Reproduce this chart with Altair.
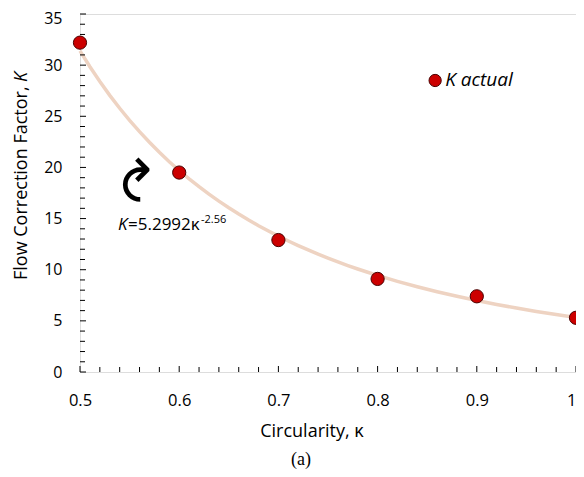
import altair as alt
import pandas as pd

# data
circularity = [0.5, 0.6, 0.7, 0.8, 0.9, 1.0]
k_actual = [32.2, 19.5, 12.9, 9.1, 7.4, 5.3]

x_major = [0.5, 0.6, 0.7, 0.8, 0.9, 1.0]
x_minor = [0.52, 0.54, 0.56, 0.58, 0.62, 0.64, 0.66, 0.68, 0.72, 0.74, 0.76, 0.78,
           0.82, 0.84, 0.86, 0.88, 0.92, 0.94, 0.96, 0.98]
y_major = [0, 5, 10, 15, 20, 25, 30, 35]
y_minor = [1, 2, 3, 4, 6, 7, 8, 9, 11, 12, 13, 14, 16, 17, 18, 19, 21, 22, 23, 24,
           26, 27, 28, 29, 31, 32, 33, 34]

legend_pos = {"k": [0.858], "K": [28.5], "label": ["K actual"]}

FONT = "Open Sans"
W, H = 496, 358

df = pd.DataFrame({"k": circularity, "K": k_actual})

xs = alt.Scale(domain=[0.5, 1.0], nice=False, zero=False)
ys = alt.Scale(domain=[0, 35], nice=False, zero=True)

xaxis = alt.Axis(values=x_major, ticks=False, domain=False, grid=False,
                 labelExpr="datum.value == 1 ? '1' : format(datum.value, '.1f')",
                 labelAlign={"condition": {"test": "datum.value == 1", "value": "right"},
                             "value": "center"},
                 labelFont=FONT, labelFontSize=16.5, labelColor="black", labelPadding=20,
                 title=None)
yaxis = alt.Axis(values=y_major, ticks=False, domain=False, grid=False,
                 labelOffset={"condition": {"test": "datum.value == 35", "value": 4},
                              "value": 0},
                 labelFont=FONT, labelFontSize=16, labelColor="black", labelPadding=18,
                 title=None)

X = alt.X("k:Q", scale=xs, axis=xaxis)
Y = alt.Y("K:Q", scale=ys, axis=yaxis)

base = alt.Chart(df)

curve = base.transform_regression("k", "K", method="pow", extent=[0.5, 1.0]).mark_line(
    color="#eed3c2", strokeWidth=3.5).encode(x=X, y=Y)

points = base.mark_point(filled=True, fill="#cc0000", stroke="#4a0000",
                         strokeWidth=1, opacity=1, size=175).encode(x=X, y=Y)

# minor / major ticks pointing inward
xt_major = alt.Chart(pd.DataFrame({"k": x_major})).mark_rule(color="black").encode(
    x=X, y=alt.value(H), y2=alt.value(H - 6))
xt_minor = alt.Chart(pd.DataFrame({"k": x_minor})).mark_rule(color="black").encode(
    x=X, y=alt.value(H), y2=alt.value(H - 5))
yt_major = alt.Chart(pd.DataFrame({"K": y_major})).mark_rule(color="black").encode(
    y=Y, x=alt.value(0), x2=alt.value(6))
yt_minor = alt.Chart(pd.DataFrame({"K": y_minor})).mark_rule(color="black").encode(
    y=Y, x=alt.value(0), x2=alt.value(5))

# legend
leg_df = pd.DataFrame(legend_pos)
leg_pt = alt.Chart(leg_df).mark_point(filled=True, fill="#cc0000", stroke="#4a0000",
                                      strokeWidth=1, opacity=1, size=150).encode(x=X, y=Y)
leg_txt = alt.Chart(leg_df).mark_text(align="left", baseline="middle", dx=10, dy=0,
                                      font=FONT, fontSize=19, fontStyle="italic",
                                      color="black").encode(x=X, y=Y, text="label:N")

ann = alt.Chart(pd.DataFrame({"a": [0]}))

# axis titles
xtitle = ann.mark_text(align="center", baseline="middle", font=FONT, fontSize=18,
                       color="black").encode(
    x=alt.value(232), y=alt.value(418), text=alt.value("Circularity, κ"))
ytitle1 = ann.mark_text(angle=270, align="left", baseline="middle", font=FONT,
                        fontSize=18, color="black").encode(
    x=alt.value(-58), y=alt.value(266), text=alt.value("Flow Correction Factor,"))
ytitle2 = ann.mark_text(angle=270, align="right", baseline="middle", font=FONT,
                        fontSize=18, fontStyle="italic", color="black").encode(
    x=alt.value(-58), y=alt.value(58), text=alt.value("K"))

# equation annotation
eq_k = ann.mark_text(align="left", baseline="alphabetic", font=FONT, fontSize=17,
                     fontStyle="italic", color="black").encode(
    x=alt.value(38), y=alt.value(216), text=alt.value("K"))
eq_rest = ann.mark_text(align="left", baseline="alphabetic", font=FONT, fontSize=17,
                        color="black").encode(
    x=alt.value(48), y=alt.value(216), text=alt.value("=5.2992κ"))
eq_sup = ann.mark_text(align="left", baseline="alphabetic", font=FONT, fontSize=11,
                       color="black").encode(
    x=alt.value(121), y=alt.value(209), text=alt.value("-2.56"))
arrow = ann.mark_text(align="center", baseline="middle", font="DejaVu Sans",
                      fontSize=57, angle=270, color="black").encode(
    x=alt.value(64), y=alt.value(166), text=alt.value("↷"))

caption = ann.mark_text(align="center", baseline="middle", font="Liberation Serif",
                        fontSize=18, color="black").encode(
    x=alt.value(221), y=alt.value(446), text=alt.value("(a)"))

chart = alt.layer(
    curve, xt_major, xt_minor, yt_major, yt_minor, points, leg_pt, leg_txt,
    xtitle, ytitle1, ytitle2, eq_k, eq_rest, eq_sup, arrow, caption
).properties(
    width=W, height=H,
    autosize=alt.AutoSizeParams(type="none"),
    padding={"left": 72, "top": 6, "right": 0, "bottom": 97},
).configure_view(stroke="black", strokeWidth=1.2).configure(background="white")

chart.save("out.html", embed_options={"renderer": "svg", "actions": False})
